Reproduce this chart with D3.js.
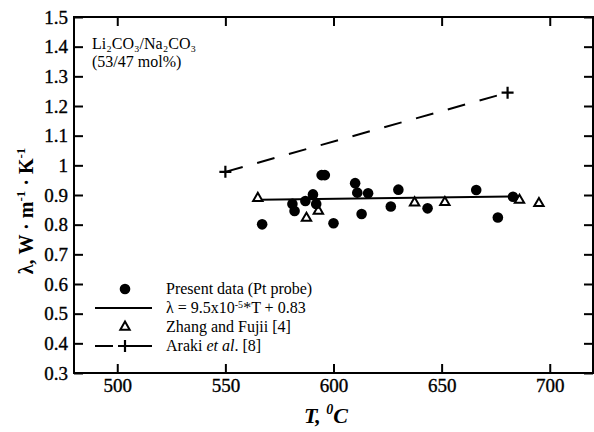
<!DOCTYPE html>
<html>
<head>
<meta charset="utf-8">
<script src="https://cdn.jsdelivr.net/npm/d3@7"></script>
<style>
  body { margin: 0; background: #fff; }
  svg { display: block; }
  text { font-family: "Liberation Serif", "Times New Roman", serif; fill: #000; }
</style>
</head>
<body>
<div id="chart"></div>
<script>
// data
var presentT = [567, 581, 582, 587, 590.5, 592, 594.5, 596, 600, 610, 611, 613, 616, 626.5, 630, 643.5, 666, 676, 683];
var presentL = [0.801, 0.870, 0.846, 0.880, 0.902, 0.870, 0.967, 0.967, 0.805, 0.940, 0.908, 0.836, 0.906, 0.861, 0.918, 0.855, 0.917, 0.824, 0.894];

var zhangT = [565, 587.5, 593, 637.5, 651.5, 686, 695];
var zhangL = [0.889, 0.822, 0.846, 0.874, 0.875, 0.883, 0.872];

var arakiT = [550, 680.5];
var arakiL = [0.978, 1.245];

// fit: lambda = 9.5e-5 * T + 0.83
var fitT = [566, 686];
var fitSlope = 9.5e-5, fitIntercept = 0.83;

var xTicks = [500, 550, 600, 650, 700];
var yTicks = [0.3, 0.4, 0.5, 0.6, 0.7, 0.8, 0.9, 1, 1.1, 1.2, 1.3, 1.4, 1.5];
var yTickLabels = ["0.3", "0.4", "0.5", "0.6", "0.7", "0.8", "0.9", "1", "1.1", "1.2", "1.3", "1.4", "1.5"];

var W = 594, H = 432;
var margin = {top: 17, right: 1, bottom: 59, left: 74};
var plotW = W - margin.left - margin.right,
    plotH = H - margin.top - margin.bottom;

var svg = d3.select("#chart")
  .append("svg")
  .attr("width", W)
  .attr("height", H);

var g = svg.append("g")
  .attr("transform", "translate(" + margin.left + "," + margin.top + ")");

var x = d3.scaleLinear().domain([480, 720]).range([0, plotW]);
var y = d3.scaleLinear().domain([0.3, 1.5]).range([plotH, 0]);

// axes, ticks pointing inward
var tickLen = 9;
g.append("g")
  .attr("class", "x-axis")
  .attr("transform", "translate(0," + plotH + ")")
  .call(d3.axisBottom(x).tickValues(xTicks).tickSizeInner(-tickLen).tickSizeOuter(0).tickPadding(6).tickFormat(d3.format("d")));
g.append("g")
  .attr("class", "x-axis-top")
  .call(d3.axisTop(x).tickValues(xTicks).tickSizeInner(-tickLen).tickSizeOuter(0).tickFormat(""));
g.append("g")
  .attr("class", "y-axis")
  .call(d3.axisLeft(y).tickValues(yTicks).tickSizeInner(-tickLen).tickSizeOuter(0).tickPadding(6)
    .tickFormat(function (d, i) { return yTickLabels[i]; }));
g.append("g")
  .attr("class", "y-axis-right")
  .attr("transform", "translate(" + plotW + ",0)")
  .call(d3.axisRight(y).tickValues(yTicks).tickSizeInner(-tickLen).tickSizeOuter(0).tickFormat(""));

g.selectAll(".domain").remove();
g.selectAll(".tick line").attr("stroke", "#000").attr("stroke-width", 2);
g.selectAll(".tick text")
  .style("font-family", '"Liberation Serif", "Times New Roman", serif')
  .style("font-size", "19px")
  .attr("fill", "#000")
  .attr("stroke", "#000")
  .attr("stroke-width", 0.35);

// frame
g.append("rect")
  .attr("x", 0).attr("y", 0)
  .attr("width", plotW).attr("height", plotH)
  .attr("fill", "none")
  .attr("stroke", "#000")
  .attr("stroke-width", 2);

// Araki dashed line with + at the ends
var arakiData = arakiT.map(function (t, i) { return [t, arakiL[i]]; });
g.append("path")
  .datum(arakiData)
  .attr("d", d3.line().x(function (d) { return x(d[0]); }).y(function (d) { return y(d[1]); }))
  .attr("fill", "none")
  .attr("stroke", "#000")
  .attr("stroke-width", 2)
  .attr("stroke-dasharray", "18,15");
g.selectAll(".araki")
  .data(arakiData)
  .enter()
  .append("path")
  .attr("class", "araki")
  .attr("transform", function (d) { return "translate(" + x(d[0]) + "," + y(d[1]) + ")"; })
  .attr("d", "M-6,0H6M0,-6V6")
  .attr("stroke", "#000")
  .attr("stroke-width", 2.2);

// fit line
g.append("path")
  .datum(fitT.map(function (t) { return [t, fitSlope * t + fitIntercept]; }))
  .attr("d", d3.line().x(function (d) { return x(d[0]); }).y(function (d) { return y(d[1]); }))
  .attr("fill", "none")
  .attr("stroke", "#000")
  .attr("stroke-width", 2);

// Zhang and Fujii, open triangles
var tri = d3.symbol().type(d3.symbolTriangle).size(38);
g.selectAll(".zhang")
  .data(zhangT.map(function (t, i) { return [t, zhangL[i]]; }))
  .enter()
  .append("path")
  .attr("class", "zhang")
  .attr("transform", function (d) { return "translate(" + x(d[0]) + "," + y(d[1]) + ")"; })
  .attr("d", tri)
  .attr("fill", "#fff")
  .attr("stroke", "#000")
  .attr("stroke-width", 2);

// present data, filled circles
g.selectAll(".present")
  .data(presentT.map(function (t, i) { return [t, presentL[i]]; }))
  .enter()
  .append("circle")
  .attr("class", "present")
  .attr("cx", function (d) { return x(d[0]); })
  .attr("cy", function (d) { return y(d[1]); })
  .attr("r", 5.3)
  .attr("fill", "#000");

// composition note
svg.append("text")
  .attr("x", 92).attr("y", 49)
  .style("font-size", "16px")
  .text("Li\u2082CO\u2083/Na\u2082CO\u2083");
svg.append("text")
  .attr("x", 92).attr("y", 67)
  .style("font-size", "16px")
  .text("(53/47 mol%)");

// legend
var lg = svg.append("g");
var rows = [289, 308, 327, 346];
var markX = 125, textX = 166, fs = "16px";
lg.append("circle").attr("cx", markX).attr("cy", rows[0]).attr("r", 5.3).attr("fill", "#000");
lg.append("line").attr("x1", 95).attr("x2", 152).attr("y1", rows[1]).attr("y2", rows[1])
  .attr("stroke", "#000").attr("stroke-width", 2);
lg.append("path").attr("transform", "translate(" + markX + "," + rows[2] + ")")
  .attr("d", tri).attr("fill", "#fff").attr("stroke", "#000").attr("stroke-width", 2);
lg.append("line").attr("x1", 95).attr("x2", 152).attr("y1", rows[3]).attr("y2", rows[3])
  .attr("stroke", "#000").attr("stroke-width", 2).attr("stroke-dasharray", "18,5,40");
lg.append("path").attr("transform", "translate(" + markX + "," + rows[3] + ")")
  .attr("d", "M-6,0H6M0,-6V6").attr("stroke", "#000").attr("stroke-width", 2.2);

lg.append("text").attr("x", textX).attr("y", rows[0] + 5).style("font-size", fs)
  .text("Present data (Pt probe)");
var l2 = lg.append("text").attr("x", textX).attr("y", rows[1] + 5).style("font-size", fs);
l2.append("tspan").text("\u03bb = 9.5x10");
l2.append("tspan").attr("dy", -5).style("font-size", "10px").text("-5");
l2.append("tspan").attr("dy", 5).text("*T + 0.83");
lg.append("text").attr("x", textX).attr("y", rows[2] + 5).style("font-size", fs)
  .text("Zhang and Fujii [4]");
var l4 = lg.append("text").attr("x", textX).attr("y", rows[3] + 5).style("font-size", fs);
l4.append("tspan").text("Araki ");
l4.append("tspan").style("font-style", "italic").text("et al");
l4.append("tspan").text(". [8]");

// axis titles
var yl = svg.append("text")
  .attr("transform", "translate(33,211) rotate(-90)")
  .attr("text-anchor", "middle")
  .style("font-size", "20px")
  .style("font-weight", "bold");
yl.append("tspan").text("\u03bb, W \u00b7 m");
yl.append("tspan").attr("dy", -8).style("font-size", "13px").text("-1");
yl.append("tspan").attr("dy", 8).text(" \u00b7 K");
yl.append("tspan").attr("dy", -8).style("font-size", "13px").text("-1");

var xl = svg.append("text")
  .attr("x", 326).attr("y", 423)
  .attr("text-anchor", "middle")
  .style("font-size", "22px")
  .style("font-weight", "bold")
  .style("font-style", "italic");
xl.append("tspan").text("T, ");
xl.append("tspan").attr("dy", -9).style("font-size", "14px").text("0");
xl.append("tspan").attr("dy", 9).text("C");
</script>
</body>
</html>
